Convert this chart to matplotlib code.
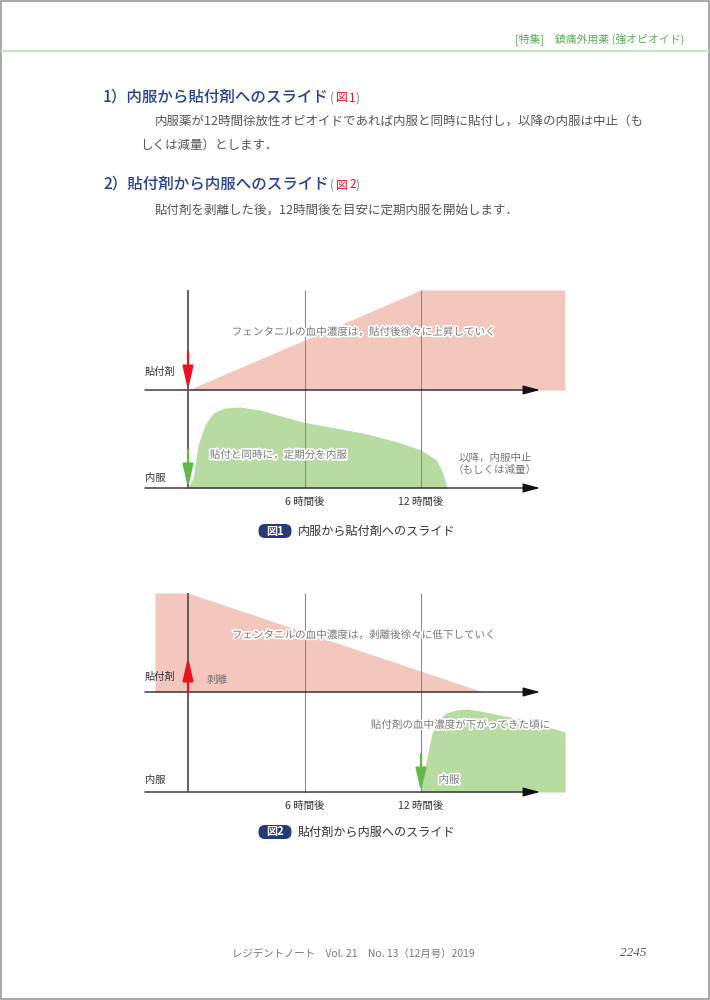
import matplotlib
matplotlib.use('Agg')
import matplotlib.pyplot as plt
from matplotlib.patches import FancyBboxPatch, Rectangle
import matplotlib.patheffects as pe

plt.rcParams['font.family'] = ['Noto Sans CJK JP', 'DejaVu Sans']

# ---------------- data ----------------
tick_hours = [6, 12]
tick_labels = ['6 時間後', '12 時間後']

# Fig.1 : oral -> patch
patch1_t = [0, 12, 19.4]
patch1_c = [0, 100, 100]
oral1_t = [0, 0.26, 0.52, 0.88, 1.29, 1.9, 2.68, 3.7, 5.9, 9.0, 10.8, 12.0, 12.8, 13.1, 13.35]
oral1_c = [0, 10, 43, 63, 75, 80, 81, 78, 66, 55, 46, 38, 28, 16, 0]

# Fig.2 : patch -> oral
patch2_t = [-1.7, 0, 15.2]
patch2_c = [99, 99, 0]
oral2_t = [12, 12.15, 12.3, 12.57, 12.87, 13.3, 13.8, 14.37, 15.04, 17.1, 19.42, 19.42]
oral2_c = [0, 17, 35, 59, 72, 79, 82, 83, 81, 73, 60, 0]

# ---------------- style ----------------
PINK = '#f3c7be'
GREEN = '#b8dba2'
RED = '#e8141c'
GARROW = '#62b94a'
NAVY = '#243b78'
BLUE = '#26409a'

W, H = 710, 1000
fig = plt.figure(figsize=(7.1, 10), dpi=100)

S = 19.42   # px per hour
X0 = 188    # px of hour 0

halo = [pe.withStroke(linewidth=2.5, foreground='white')]


def chart_axes(left, right, top, bottom, y0):
    ax = fig.add_axes([left / W, 1 - bottom / H, (right - left) / W, (bottom - top) / H])
    ax.set_xlim((left - X0) / S, (right - X0) / S)
    ax.set_ylim(y0 - bottom, y0 - top)
    ax.axis('off')
    return ax


def draw_frame(ax, up_base, top):
    xs, xe = (145 - X0) / S, (540 - X0) / S
    for yb in (0, up_base):
        ax.annotate('', xy=(xe, yb), xytext=(xs, yb),
                    arrowprops=dict(arrowstyle='-|>,head_length=1.3,head_width=0.35',
                                    mutation_scale=8, color='#111', lw=0.9,
                                    shrinkA=0, shrinkB=0), zorder=4)
    ax.plot([0, 0], [0, top], color='#555', lw=1.3, zorder=5, solid_capstyle='butt')
    for t in tick_hours:
        ax.plot([t, t], [0, top], color='#8a8a8a', lw=0.8, zorder=3, solid_capstyle='butt')
    for t, lab in zip(tick_hours, tick_labels):
        ax.text(t, -14, lab, ha='center', va='center', fontsize=7.5, color='#333')


def arrow(ax, x, y_from, y_to, color):
    ax.annotate('', xy=(x, y_to), xytext=(x, y_from),
                arrowprops=dict(arrowstyle='-|>,head_length=1.4,head_width=0.32',
                                mutation_scale=10, color=color, lw=1.6,
                                shrinkA=0, shrinkB=0), zorder=6)


# ---- chart 1 ----
ax1 = chart_axes(130, 580, 280, 512, 488)
UP1 = 98
ax1.fill_between(patch1_t, UP1, [UP1 + c for c in patch1_c], color=PINK, lw=0, zorder=1)
ax1.fill_between(oral1_t, 0, oral1_c, color=GREEN, lw=0, zorder=1)
draw_frame(ax1, UP1, 198)
arrow(ax1, 0, UP1 + 38, UP1, RED)
arrow(ax1, 0, 38, 0, GARROW)

# ---- chart 2 ----
ax2 = chart_axes(130, 580, 583, 816, 792)
UP2 = 100
ax2.fill_between(patch2_t, UP2, [UP2 + c for c in patch2_c], color=PINK, lw=0, zorder=1)
ax2.fill_between(oral2_t, 0, oral2_c, color=GREEN, lw=0, zorder=1)
draw_frame(ax2, UP2, 199)
arrow(ax2, 0, UP2, UP2 + 35, RED)
arrow(ax2, 12, 38, 0, GARROW)

# ---------------- page overlay ----------------
ov = fig.add_axes([0, 0, 1, 1], zorder=10)
ov.set_xlim(0, W)
ov.set_ylim(H, 0)
ov.axis('off')
ov.patch.set_visible(False)

# page border
ov.add_patch(Rectangle((0.8, 0.8), W - 1.6, H - 1.6, fill=False, ec='#9a9a9a', lw=1.2))

# header
ov.text(684, 40, '[特集]　鎮痛外用薬 (強オピオイド)', ha='right', va='center',
        fontsize=7.8, color='#5aad55')
ov.plot([2, 708], [51, 51], color='#c6e5c3', lw=1.6)

# headings
def heading(y, num_text, fig_no):
    ov.text(103, y, num_text, ha='left', va='center', fontsize=11.2,
            color=BLUE, fontweight='medium')
    ov.text(330, y + 1, '(', ha='left', va='center', fontsize=8.5, color='#777')
    ov.text(336, y + 1, '図', ha='left', va='center', fontsize=8.5, color=RED)
    ov.text(349, y + 1, fig_no, ha='left', va='center', fontsize=8.5, color=RED)
    ov.text(356, y + 1, ')', ha='left', va='center', fontsize=8.5, color='#777')

heading(97, '1）内服から貼付剤へのスライド', '1')
heading(184, '2）貼付剤から内服へのスライド', '2')

BODY = dict(ha='left', va='center', fontsize=9.0, color='#555')
ov.text(155, 122, '内服薬が12時間徐放性オピオイドであれば内服と同時に貼付し，以降の内服は中止（も', **BODY)
ov.text(140, 145, 'しくは減量）とします．', **BODY)
ov.text(155, 210, '貼付剤を剥離した後，12時間後を目安に定期内服を開始します．', **BODY)

# chart 1 texts
LAB = dict(ha='left', va='center', fontsize=7.4, color='#333')
NOTE = dict(ha='center', va='center', fontsize=7.6, color='#777', path_effects=halo)
ov.text(145, 372, '貼付剤', **LAB)
ov.text(145, 478, '内服', **LAB)
ov.text(363, 332, 'フェンタニルの血中濃度は，貼付後徐々に上昇していく', **NOTE)
ov.text(278, 455, '貼付と同時に，定期分を内服', **NOTE)
ov.text(495, 458, '以降，内服中止', ha='center', va='center', fontsize=7.6, color='#777')
ov.text(495, 470, '（もしくは減量）', ha='center', va='center', fontsize=7.6, color='#777')

# chart 2 texts
ov.text(145, 677, '貼付剤', **LAB)
ov.text(145, 780, '内服', **LAB)
ov.text(207, 680, '剥離', ha='left', va='center', fontsize=7.6, color='#777')
ov.text(363, 635, 'フェンタニルの血中濃度は，剥離後徐々に低下していく', **NOTE)
ov.text(460, 725, '貼付剤の血中濃度が下がってきた頃に', **NOTE)
ov.text(449, 780, '内服', **NOTE)

# captions
def caption(y, no, text):
    ov.add_patch(FancyBboxPatch((260, y - 5.5), 30, 11,
                                boxstyle='round,pad=1.5,rounding_size=6.5',
                                fc=NAVY, ec='none'))
    ov.text(275, y, '図' + no, ha='center', va='center', fontsize=8.0,
            color='white', fontweight='bold')
    ov.text(298, y, text, ha='left', va='center', fontsize=8.7, color='#333')

caption(531, '1', '内服から貼付剤へのスライド')
caption(832, '2', '貼付剤から内服へのスライド')

# footer
ov.text(232, 954, 'レジデントノート　Vol. 21　No. 13（12月号）2019', ha='left', va='center',
        fontsize=7.5, color='#777')
ov.text(647, 953, '2245', ha='right', va='center', fontsize=9.5, color='#555',
        family='Liberation Serif', style='italic')

fig.savefig('out.png', dpi=100)
